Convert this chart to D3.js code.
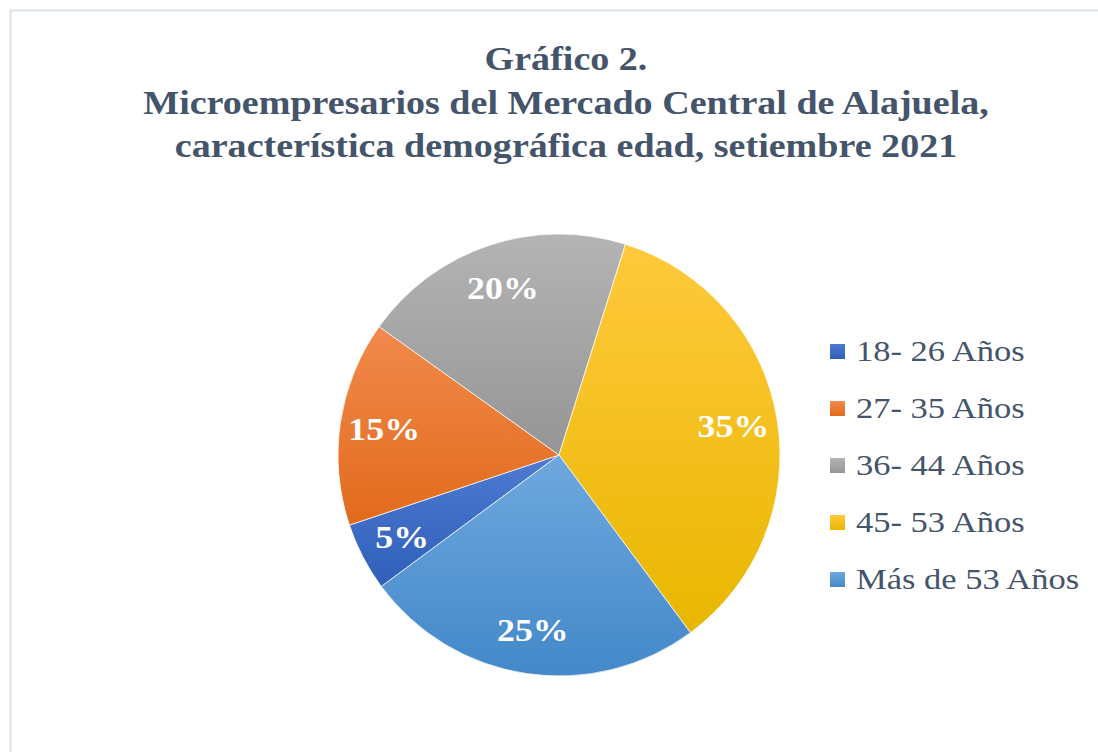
<!DOCTYPE html>
<html>
<head>
<meta charset="utf-8">
<script src="https://cdn.jsdelivr.net/npm/d3@7/dist/d3.min.js"></script>
<style>
  body { margin: 0; background: #ffffff; }
  .serif { font-family: "Liberation Serif", "Times New Roman", Times, "DejaVu Serif", serif; }
</style>
</head>
<body>
<div id="chart"></div>
<script>
// ---------------------------------------------------------------
// DATA
// ---------------------------------------------------------------
const categories = ["18- 26 Años", "27- 35 Años", "36- 44 Años", "45- 53 Años", "Más de 53 Años"];
const values = [5, 15, 20, 35, 25];
const titleLines = [
  "Gráfico 2.",
  "Microempresarios del Mercado Central de Alajuela,",
  "característica  demográfica edad, setiembre 2021"
];

// gradient stops per slice (top -> bottom)
const colorsTop = ["#4f7bd1", "#f18a4c", "#b4b4b4", "#ffc93c", "#6ea8de"];
const colorsBottom = ["#2f5fba", "#e26a1c", "#959595", "#e8b700", "#4388c9"];

const width = 1098;
const height = 752;
const center = { x: 559, y: 455 };
const radius = 221;
const startAngle = 233.5 * Math.PI / 180;
const stretch = 1.12;   // the original text is a little wider than Times

const svg = d3.select("#chart")
  .append("svg")
  .attr("width", width)
  .attr("height", height);

// chart frame (only top/left edges visible)
svg.append("path")
  .attr("d", `M10.5,${height} L10.5,10.5 L${width},10.5`)
  .attr("fill", "none")
  .attr("stroke", "#dbe1e8")
  .attr("stroke-width", 2);

// ---------------------------------------------------------------
// TITLE
// ---------------------------------------------------------------
svg.append("g")
  .selectAll("text")
  .data(titleLines)
  .join("text")
  .attr("class", "serif")
  .attr("transform", (d, i) => `translate(566,${70 + i * 43.5}) scale(${stretch},1)`)
  .attr("text-anchor", "middle")
  .style("font-weight", "bold")
  .style("font-size", "34px")
  .style("fill", "#44546a")
  .text(d => d);

// ---------------------------------------------------------------
// GRADIENTS
// ---------------------------------------------------------------
const defs = svg.append("defs");
categories.forEach((c, i) => {
  const g = defs.append("linearGradient")
    .attr("id", "grad" + i)
    .attr("x1", 0).attr("y1", 0)
    .attr("x2", 0).attr("y2", 1);
  g.append("stop").attr("offset", "0%").attr("stop-color", colorsTop[i]);
  g.append("stop").attr("offset", "100%").attr("stop-color", colorsBottom[i]);
});

// ---------------------------------------------------------------
// PIE
// ---------------------------------------------------------------
const pie = d3.pie()
  .sort(null)
  .startAngle(startAngle)
  .endAngle(startAngle + 2 * Math.PI)
  .value(d => d);

const arcs = pie(values);

const arc = d3.arc().innerRadius(0).outerRadius(radius);
const labelArc = d3.arc().innerRadius(radius * 0.8).outerRadius(radius * 0.8);

const g = svg.append("g")
  .attr("transform", `translate(${center.x},${center.y})`);

g.selectAll("path.slice")
  .data(arcs)
  .join("path")
  .attr("class", "slice")
  .attr("d", arc)
  .attr("fill", (d, i) => `url(#grad${i})`)
  .attr("stroke", "#ffffff")
  .attr("stroke-opacity", 0.7)
  .attr("stroke-width", 1);

g.selectAll("text.label")
  .data(arcs)
  .join("text")
  .attr("class", "label serif")
  .attr("transform", d => `translate(${labelArc.centroid(d)}) scale(${stretch},1)`)
  .attr("text-anchor", "middle")
  .attr("dy", "0.35em")
  .style("font-weight", "bold")
  .style("font-size", "32px")
  .style("fill", "#ffffff")
  .text(d => d.data + "%");

// ---------------------------------------------------------------
// LEGEND
// ---------------------------------------------------------------
const legend = svg.append("g")
  .attr("transform", "translate(830,351)");

const rows = legend.selectAll("g")
  .data(categories)
  .join("g")
  .attr("transform", (d, i) => `translate(0,${i * 57})`);

rows.append("rect")
  .attr("x", 0)
  .attr("y", -7)
  .attr("width", 15)
  .attr("height", 15)
  .attr("fill", (d, i) => `url(#grad${i})`);

rows.append("text")
  .attr("class", "serif")
  .attr("transform", "translate(26,0) scale(1.15,1)")
  .attr("dy", "0.33em")
  .style("font-size", "30px")
  .style("fill", "#44546a")
  .text(d => d);
</script>
</body>
</html>
